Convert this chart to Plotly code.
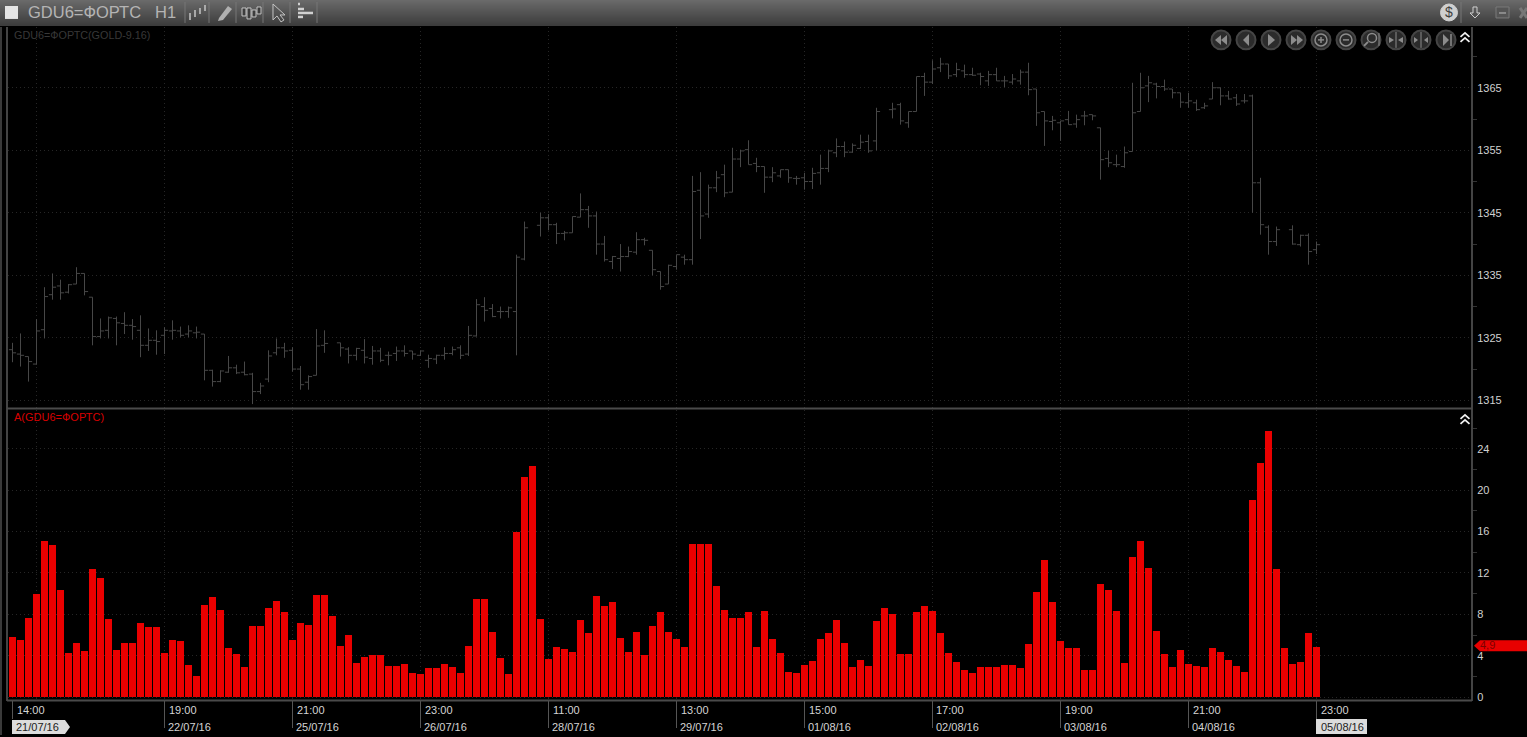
import plotly.graph_objects as go

W, H = 1527, 737

volume = [5.8,5.5,7.7,10.0,15.1,14.7,10.4,4.3,5.2,4.5,12.4,11.5,7.6,4.6,5.2,5.2,7.2,6.75,6.75,4.3,
5.5,5.4,3.1,2.1,8.9,9.7,8.4,4.8,4.15,2.9,6.85,6.85,8.6,9.35,8.2,5.5,7.2,6.95,9.85,9.85,
7.9,5.0,6.0,3.3,3.85,4.05,4.05,3.0,3.0,3.2,2.3,2.2,2.8,2.8,3.2,2.9,2.3,5.0,9.45,9.45,
6.27,3.76,2.2,16.0,21.3,22.4,7.6,3.67,4.9,4.63,4.34,7.43,6.17,9.74,8.78,9.16,5.7,4.34,6.27,4.05,
6.85,8.2,6.27,5.6,4.9,14.85,14.85,14.85,10.8,8.4,7.7,7.7,8.2,4.9,8.3,5.6,4.24,2.4,2.3,3.1,
3.47,5.6,6.17,7.43,5.2,2.9,3.57,3.0,7.33,8.6,8.0,4.15,4.15,8.2,8.78,8.3,6.17,4.24,3.38,2.6,
2.3,2.9,2.9,2.9,3.1,3.1,2.8,5.1,10.2,13.3,9.16,5.4,4.73,4.73,2.6,2.6,10.9,10.4,8.3,3.3,
13.6,15.1,12.5,6.37,4.15,2.9,4.53,3.2,3.0,2.9,4.73,4.34,3.57,3.0,2.4,19.1,22.6,25.75,12.35,4.73,
3.2,3.38,6.17,4.9]

opens = [1323.1,1322.4,1322.0,1320.8,1326.3,1331.9,1333.3,1332.3,1333.6,1335.3,1331.5,1325.2,1326.2,1328.1,1327.3,1327.0,1326.2,1323.8,1324.6,1325.4,
1326.1,1326.1,1325.6,1325.8,1325.6,1319.8,1318.0,1319.5,1320.2,1319.5,1319.2,1316.4,1318.4,1322.6,1323.4,1323.0,1320.0,1317.9,1319.0,1323.8,
None,1324.2,1323.2,1322.2,1323.0,1321.7,1322.9,1322.2,1322.5,1322.9,1322.9,1322.2,1321.4,1321.6,1322.2,1322.5,1323.4,1322.4,1325.3,1330.0,
1329.7,1329.2,1329.2,1329.2,1337.6,None,1343.0,1344.2,1343.1,1341.7,1341.8,1344.3,1345.5,1344.5,1340.0,1337.2,1337.7,1338.0,1338.7,1340.7,
1339.0,1335.6,1333.6,1336.4,1337.9,1337.5,1348.6,1344.8,1349.0,1351.1,1348.3,1353.6,1355.1,1352.9,1352.4,1350.7,1350.9,1351.9,1350.5,1350.6,
1350.0,1351.4,1352.1,1354.6,1355.6,1354.7,1355.3,1356.4,1356.5,None,1361.5,1362.3,1359.4,1361.2,1366.8,1365.9,1368.2,1368.8,1367.1,1367.7,
1367.1,1367.2,1366.1,1367.1,1366.1,1365.9,1366.1,1367.5,1364.8,1361.2,1359.6,1359.4,1359.9,1359.2,1360.5,1360.7,1358.6,1353.7,1352.7,1352.4,
1354.8,1361.2,1365.3,1365.6,1365.2,1364.8,1364.2,1362.6,1362.6,1361.8,1363.2,1365.0,1363.7,1363.4,1362.9,1363.7,1349.8,1342.7,1340.4,None,
1342.3,1339.9,1341.4,1339.1]

highs = [1324.2,1325.7,1322.0,1328.0,1333.1,1335.3,1334.3,1333.6,1336.3,1335.3,1331.5,1328.1,1328.4,1328.4,1329.1,1328.0,1328.6,1326.5,1326.2,1326.7,
1327.8,1326.8,1327.0,1326.8,1325.6,1319.9,1319.8,1322.1,1320.7,1321.2,1319.4,1317.8,1323.0,1324.9,1324.2,1323.5,1320.5,1319.0,1326.4,1326.2,
None,1324.2,1323.5,1323.4,1324.8,1323.7,1323.4,1322.8,1323.6,1323.8,1322.9,1323.0,1322.3,1322.3,1323.5,1323.6,1323.8,1326.9,1331.2,1331.5,
1330.4,1330.0,1330.0,1338.3,1343.6,None,1345.0,1344.8,1343.4,1342.1,1344.4,1348.1,1346.1,1345.2,1341.3,1338.1,1340.0,1339.6,1341.9,1341.0,
1339.0,1335.6,1336.7,1338.3,1338.3,1350.9,1351.5,1349.5,1351.7,1352.7,1355.4,1355.1,1356.6,1353.8,1352.4,1352.3,1351.9,1351.9,1350.9,1351.4,
1352.2,1354.3,1355.1,1356.9,1356.4,1356.1,1357.5,1357.5,1361.8,None,1362.6,1362.6,1361.2,1366.8,1367.4,1369.4,1369.8,1368.8,1369.0,1368.7,
1368.2,1367.4,1367.7,1368.2,1366.9,1367.2,1367.9,1369.0,1364.8,1361.2,1360.5,1359.7,1361.3,1360.7,1361.3,1360.7,1358.6,1354.9,1354.3,1355.6,
1365.8,1367.4,1366.9,1365.8,1366.3,1364.8,1364.2,1364.2,1363.1,1362.6,1365.9,1365.0,1364.5,1364.0,1364.0,1363.9,1350.6,1343.0,1342.8,None,
1343.0,1341.5,1341.7,1340.4]

lows = [1321.1,1320.4,1318.0,1320.7,1324.9,1331.1,1331.1,1332.1,1333.6,1331.8,1323.8,1324.9,1324.9,1323.8,1325.6,1324.7,1321.9,1322.9,1322.3,1322.4,
1324.7,1325.1,1325.1,1324.9,1318.2,1317.2,1317.9,1319.4,1319.2,1319.0,1314.4,1316.0,1317.9,1322.2,1321.8,1319.6,1316.7,1316.7,1319.0,1322.6,
None,1322.0,1320.9,1321.4,1320.9,1320.7,1321.1,1320.6,1321.3,1322.0,1321.5,1322.1,1320.2,1320.8,1321.5,1322.2,1321.6,1322.1,1325.2,1327.6,
1328.3,1328.1,1328.2,1322.2,1337.4,None,1341.2,1342.2,1340.0,1340.6,1341.8,1344.3,1342.6,1338.3,1337.2,1336.0,1335.6,1337.9,1338.3,1339.8,
1335.0,1332.7,1333.6,1335.9,1336.7,1336.7,1340.8,1344.2,1348.3,1347.5,1348.3,1352.3,1352.7,1351.5,1348.2,1349.9,1350.6,1349.8,1349.5,1348.7,
1348.8,1349.5,1351.5,1353.9,1353.9,1354.6,1355.2,1354.6,1355.0,None,1360.1,1359.1,1358.6,1361.2,1363.7,1365.6,1367.5,1366.4,1366.7,1366.6,
1366.9,1365.4,1365.3,1366.1,1365.1,1365.5,1365.5,1363.8,1358.9,1355.7,1358.2,1356.5,1359.1,1358.6,1359.0,1359.8,1350.3,1352.3,1352.3,1352.2,
1354.8,1361.2,1362.7,1363.3,1364.5,1363.3,1361.8,1361.8,1361.3,1361.6,1363.2,1362.2,1363.1,1362.1,1362.5,1345.0,1341.5,1338.3,1339.7,None,
1339.9,1339.6,1336.7,1338.4]

closes = [1322.6,1322.2,1321.2,1326.1,1331.6,1333.1,1332.2,1333.5,1335.3,1332.4,1325.2,1326.1,1328.2,1327.4,1327.0,1326.8,1323.8,1324.6,1324.4,1326.2,
1326.2,1325.4,1326.1,1325.9,1319.8,1318.0,1319.7,1320.2,1319.4,1319.1,1316.4,1317.3,1322.1,1323.4,1322.9,1320.0,1317.5,1318.8,1323.7,1324.1,
None,1323.4,1322.2,1323.3,1321.9,1322.9,1321.4,1322.2,1322.9,1322.5,1322.4,1322.9,1321.7,1322.2,1322.5,1323.1,1322.2,1325.4,1330.3,1329.4,
1328.4,1329.2,1329.8,1337.9,1342.6,None,1344.2,1343.1,1341.7,1341.8,1344.4,1345.5,1344.5,1340.0,1337.5,1338.0,1338.0,1338.8,1340.7,1340.6,
1335.9,1333.2,1336.6,1338.3,1337.5,1348.4,1344.5,1349.0,1350.6,1348.2,1353.6,1354.9,1352.7,1352.4,1350.7,1351.4,1351.9,1350.6,1350.5,1350.0,
1351.3,1352.1,1354.9,1355.6,1354.7,1355.8,1356.3,1354.9,1361.2,None,1361.6,1359.7,1361.2,1366.8,1365.9,1368.0,1368.8,1366.9,1367.9,1367.1,
1367.0,1366.8,1367.1,1366.1,1366.1,1366.4,1367.5,1364.7,1361.0,1359.7,1359.8,1359.7,1359.1,1359.9,1360.5,1360.5,1353.5,1353.0,1352.7,1354.6,
1361.0,1365.0,1365.8,1365.2,1364.8,1364.2,1362.7,1362.9,1361.5,1362.1,1365.0,1363.7,1363.2,1362.4,1362.9,1349.8,1343.1,1340.4,1342.3,None,
1340.0,1341.4,1338.8,1339.9]

price_ticks = [1315, 1325, 1335, 1345, 1355, 1365]
price_minor = [1320, 1330, 1340, 1350, 1360, 1370]
volume_ticks = [0, 4, 8, 12, 16, 20, 24]
volume_minor = [2, 6, 10, 14, 18, 22, 26]
grid_bars = [3, 19, 35, 51, 67, 83, 99, 115, 131, 147, 163]
label_bars = [0, 19, 35, 51, 67, 83, 99, 115, 131, 147, 163]
label_hours = ["14:00","19:00","21:00","23:00","11:00","13:00","15:00","17:00","19:00","21:00","23:00"]
label_dates = ["21/07/16","22/07/16","25/07/16","26/07/16","28/07/16","29/07/16","01/08/16","02/08/16","03/08/16","04/08/16","05/08/16"]

bars = list(range(len(volume)))
FONT = "Liberation Sans"
GREY = "#474747"
RED = "#ea0000"

def px(x): return x / W
def py(y): return 1 - y / H

shapes, annos = [], []

def rect(x0, y0, x1, y1, fill, line=None):
    shapes.append(dict(type="rect", xref="paper", yref="paper", x0=px(x0), x1=px(x1), y0=py(y1), y1=py(y0),
                       fillcolor=fill, line=dict(width=1 if line else 0, color=line or fill), layer="below"))

def seg(x0, y0, x1, y1, color, width=1, layer="above"):
    shapes.append(dict(type="line", xref="paper", yref="paper", x0=px(x0), x1=px(x1), y0=py(y0), y1=py(y1),
                       line=dict(color=color, width=width), layer=layer))

def poly(points, fill=None, line=None, width=1, closed=True):
    d = "M" + " L".join(f"{px(a):.5f} {py(b):.5f}" for a, b in points) + (" Z" if closed else "")
    shapes.append(dict(type="path", xref="paper", yref="paper", path=d, fillcolor=fill or "rgba(0,0,0,0)",
                       line=dict(color=line or "rgba(0,0,0,0)", width=width if line else 0), layer="above"))

def circle(cx, cy, r, fill, line, width=2):
    shapes.append(dict(type="circle", xref="paper", yref="paper", x0=px(cx - r), x1=px(cx + r), y0=py(cy + r), y1=py(cy - r),
                       fillcolor=fill, line=dict(color=line, width=width), layer="above"))

def text(x, y, s, size, color, anchor="left", family=FONT):
    annos.append(dict(xref="paper", yref="paper", x=px(x), y=py(y), text=s, showarrow=False, xanchor=anchor, yanchor="middle",
                      font=dict(family=family, size=size, color=color), borderpad=0, borderwidth=0))

# title bar gradient
for i in range(26):
    v = int(0x6a - (0x6a - 0x3c) * i / 25)
    rect(0, i, W, i + 1, f"rgb({v},{v},{v})")
rect(5, 6, 18, 19, "#e4e4e4")
text(28, 12.5, "GDU6=ФОРТС", 16.5, "#b4b4b4")
text(155, 12.5, "H1", 16.5, "#b4b4b4")
for x in [185, 209, 236, 263, 290, 317]:
    seg(x, 2, x, 23, "#777777")
ic = "#c4c4c4"
for a, b, c in [(190, 13, 20), (195, 10, 17), (200, 8, 14), (205, 5, 11)]:
    seg(a, b, a, c, ic, 1.5)
poly([(219, 18), (228, 6), (232, 9), (223, 20), (218, 21)], fill="#b0b0b0")
for a, b, c in [(244, 8, 16), (249, 8, 19), (254, 10, 17), (259, 7, 14)]:
    rect(a - 2, b, a + 2, c, "#3c3c3c", ic)
poly([(273, 4), (273, 20), (277, 16), (281, 22), (284, 20), (280, 15), (285, 15)], line=ic)
for a, b, c in [(298, 4, 300), (298, 9, 304), (298, 13, 313), (298, 17, 303)]:
    seg(a, b, c, b, "#d0d0d0", 2.5)
circle(1449, 12.5, 8.5, "#cfcfcf", "#cfcfcf", 1)
text(1449, 12.5, "$", 14, "#404040", "center", "Liberation Sans")
seg(1461, 2, 1461, 23, "#777777")
poly([(1473, 7), (1477, 7), (1477, 13), (1480, 13), (1475, 18), (1470, 13), (1473, 13)], line="#d0d0d0")
rect(1496, 7, 1509, 18, "#555555", "#7a7a7a")
seg(1499, 13, 1506, 13, "#8a8a8a", 2)
seg(1520, 8, 1527, 18, "#777777", 3)
seg(1527, 8, 1520, 18, "#777777", 3)

# navigation buttons
nav_x = [1221, 1246, 1271, 1296, 1321, 1346, 1371, 1396, 1421, 1446]
for x in nav_x:
    circle(x, 40, 9.5, "#2b2b2b", "#454545")
g = "#8c8c8c"
poly([(1221, 35), (1221, 45), (1215, 40)], fill=g); poly([(1227, 35), (1227, 45), (1221, 40)], fill=g)
poly([(1249, 34), (1249, 46), (1243, 40)], fill=g)
poly([(1268, 34), (1268, 46), (1275, 40)], fill=g)
poly([(1291, 35), (1291, 45), (1297, 40)], fill=g); poly([(1297, 35), (1297, 45), (1303, 40)], fill=g)
circle(1321, 40, 6, "rgba(0,0,0,0)", g, 1.5); seg(1318, 40, 1324, 40, g, 1.5); seg(1321, 37, 1321, 43, g, 1.5)
circle(1346, 40, 6, "rgba(0,0,0,0)", g, 1.5); seg(1343, 40, 1349, 40, g, 1.5)
circle(1372, 38, 4.5, "rgba(0,0,0,0)", g, 1.5); seg(1368, 42, 1364, 46, g, 2); seg(1379, 33, 1379, 46, g, 1)
seg(1396, 32, 1396, 48, g, 1); poly([(1389, 37), (1389, 43), (1394, 40)], fill=g); poly([(1403, 37), (1403, 43), (1398, 40)], fill=g)
rect(1419, 35, 1423, 45, "#2b2b2b", g); seg(1421, 32, 1421, 48, g, 1)
poly([(1414, 37), (1414, 43), (1418, 40)], fill=g); poly([(1428, 37), (1428, 43), (1424, 40)], fill=g)
poly([(1443, 34), (1443, 46), (1449, 40)], fill=g); seg(1451, 34, 1451, 46, g, 1.5)

# collapse chevrons
for cy in [38, 421]:
    for dy in [-3, 2]:
        poly([(1460.5, cy + dy + 2), (1465, cy + dy - 2), (1469.5, cy + dy + 2)], line="#f0f0f0", width=1.8, closed=False)

# pane frame
seg(1, 27, 1, 737, "#3a3a3a", 2)
seg(7, 27, 7, 703, "#444444", 2)
seg(1472, 27, 1472, 703, "#444444", 2)
seg(7, 409.5, 1472, 409.5, "#4a4a4a", 2)
seg(7, 702.5, 1472, 702.5, "#4a4a4a", 2)

# pane captions
text(14, 35.5, "GDU6=ФОРТС(GOLD-9.16)", 10.8, "#383838")
text(14, 418.5, "A(GDU6=ФОРТС)", 11, "#d80000")

# time labels
for i, (b, hour, date) in enumerate(zip(label_bars, label_hours, label_dates)):
    xt = 12.5 + 8 * b
    if i == 0:
        poly([(12, 722), (65, 722), (70, 729), (65, 736), (12, 736)], fill="#dcdcdc")
        text(16, 728.5, date, 11, "#222222")
    elif i == len(label_bars) - 1:
        rect(1316, 721, 1367, 736, "#dcdcdc")
        text(1320.5, 728.5, date, 11, "#222222")
    else:
        seg(xt, 703, xt, 730, "#555555")
        text(xt + 3.5, 728.5, date, 11, "#d4d4d4")
    if i == 0 or i == len(label_bars) - 1:
        seg(xt, 703, xt, 721, "#555555")
    text(xt + 4, 712, hour, 11, "#d4d4d4")

# last value flag
poly([(1474, 647.5), (1480, 642), (1527, 642), (1527, 653), (1480, 653)], fill="#e80000")
text(1480, 647, "4,9", 11, "#7c0000")

fig = go.Figure()
fig.add_trace(go.Ohlc(x=bars, open=opens, high=highs, low=lows, close=closes, tickwidth=0.45,
                      increasing=dict(line=dict(color=GREY, width=1)), decreasing=dict(line=dict(color=GREY, width=1)),
                      xaxis="x", yaxis="y", showlegend=False, hoverinfo="skip"))
fig.add_trace(go.Bar(x=bars, y=volume, width=0.875, marker=dict(color=RED, line=dict(width=0)),
                     xaxis="x2", yaxis="y2", showlegend=False, hoverinfo="skip"))

x_rng = [(8 - 12.5) / 8, (1472 - 12.5) / 8]
grid = dict(showgrid=True, gridcolor="#262626", griddash="1px,3px", gridwidth=1, zeroline=False, showline=False)
xaxis = dict(range=x_rng, domain=[px(8), px(1472)], tickmode="array", tickvals=grid_bars, showticklabels=False, ticks="",
             rangeslider=dict(visible=False), fixedrange=True, **grid)
yfont = dict(family=FONT, size=11, color="#d0d0d0")
def yax(rng, dom, vals, minor, anchor):
    return dict(range=rng, domain=dom, side="right", anchor=anchor, tickmode="array", tickvals=vals, ticktext=[str(v) for v in vals],
                tickfont=yfont, ticks="outside", ticklen=2, tickcolor="rgba(0,0,0,0)", fixedrange=True,
                minor=dict(tickmode="array", tickvals=minor, ticks="outside", ticklen=4, tickcolor="#333333", showgrid=False), **grid)

fig.update_layout(
    width=W, height=H, autosize=False, margin=dict(l=0, r=0, t=0, b=0, pad=0),
    paper_bgcolor="#000000", plot_bgcolor="#000000", showlegend=False, hovermode=False, bargap=0,
    xaxis=xaxis, xaxis2=dict(xaxis, anchor="y2"),
    yaxis=yax([1313.84, 1374.78], [py(408.7), py(26.7)], price_ticks, price_minor, "x"),
    yaxis2=yax([-0.386, 27.77], [py(703), py(411)], volume_ticks, volume_minor, "x2"),
    shapes=shapes, annotations=annos,
)
fig.write_html("out.html", config=dict(displayModeBar=False), post_script="document.body.style.margin='0';document.body.style.overflow='hidden';window.dispatchEvent(new Event('resize'));")
